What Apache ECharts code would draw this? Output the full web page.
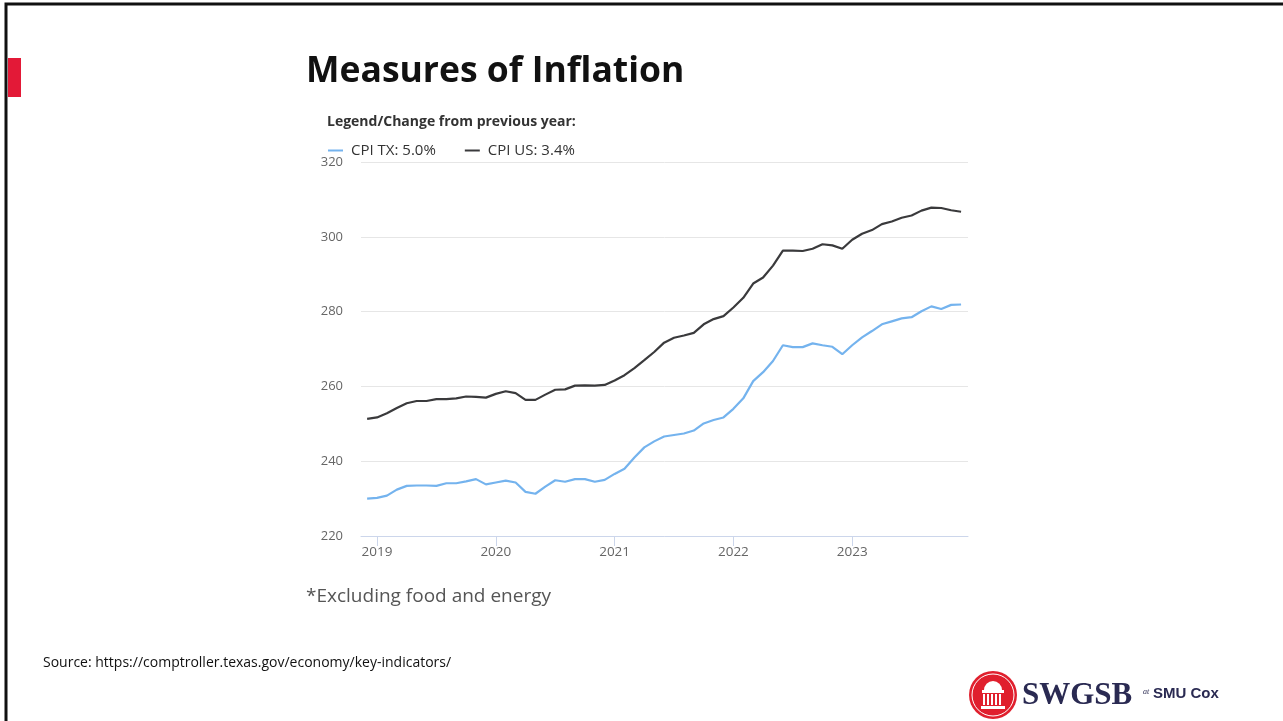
<!DOCTYPE html>
<html>
<head>
<meta charset="utf-8">
<style>
  html, body { margin: 0; padding: 0; background: #fff; }
  #chart { width: 1283px; height: 721px; }
</style>
<script src="https://cdn.jsdelivr.net/npm/echarts@6/dist/echarts.min.js"></script>
</head>
<body>
<div id="chart"></div>
<script>
// ---- data ----
const months = [
  '2018-12',
  '2019-01','2019-02','2019-03','2019-04','2019-05','2019-06','2019-07','2019-08','2019-09','2019-10','2019-11','2019-12',
  '2020-01','2020-02','2020-03','2020-04','2020-05','2020-06','2020-07','2020-08','2020-09','2020-10','2020-11','2020-12',
  '2021-01','2021-02','2021-03','2021-04','2021-05','2021-06','2021-07','2021-08','2021-09','2021-10','2021-11','2021-12',
  '2022-01','2022-02','2022-03','2022-04','2022-05','2022-06','2022-07','2022-08','2022-09','2022-10','2022-11','2022-12',
  '2023-01','2023-02','2023-03','2023-04','2023-05','2023-06','2023-07','2023-08','2023-09','2023-10','2023-11','2023-12'
];
const cpiTX = [
  230.0,
  230.2, 230.8, 232.4, 233.4, 233.5, 233.5, 233.4, 234.1, 234.1, 234.6, 235.2, 233.8,
  234.3, 234.8, 234.3, 231.8, 231.3, 233.2, 234.9, 234.5, 235.2, 235.2, 234.5, 235.0,
  236.6, 238.0, 241.0, 243.7, 245.3, 246.6, 247.0, 247.4, 248.2, 250.1, 251.0, 251.7,
  254.0, 256.8, 261.4, 263.8, 266.8, 271.0, 270.5, 270.5, 271.5, 271.0, 270.6, 268.6,
  271.0, 273.1, 274.8, 276.6, 277.4, 278.2, 278.5, 280.1, 281.4, 280.7, 281.8, 281.9
];
const cpiUS = [
  251.3,
  251.7, 252.8, 254.2, 255.5, 256.1, 256.1, 256.6, 256.6, 256.8, 257.3, 257.2, 257.0,
  258.0, 258.7, 258.2, 256.4, 256.4, 257.8, 259.1, 259.2, 260.2, 260.3, 260.2, 260.4,
  261.6, 263.0, 264.9, 267.0, 269.2, 271.7, 273.0, 273.6, 274.3, 276.6, 278.0, 278.8,
  281.1, 283.7, 287.5, 289.1, 292.3, 296.3, 296.3, 296.2, 296.8, 298.0, 297.7, 296.8,
  299.2, 300.8, 301.8, 303.4, 304.1, 305.1, 305.7, 307.0, 307.8, 307.7, 307.1, 306.7
];
const seriesNames = ['CPI TX: 5.0%', 'CPI US: 3.4%'];
const yTicks = [220, 240, 260, 280, 300, 320];
const xTickLabels = ['2019', '2020', '2021', '2022', '2023'];

// month string -> months since Jan 2019
function monthIndex(s) {
  const p = s.split('-');
  return (parseInt(p[0], 10) - 2019) * 12 + (parseInt(p[1], 10) - 1);
}
const xTickValues = xTickLabels.map(y => monthIndex(y + '-01'));
const txData = months.map((m, i) => [monthIndex(m), cpiTX[i]]);
const usData = months.map((m, i) => [monthIndex(m), cpiUS[i]]);

const chart = echarts.init(document.getElementById('chart'), null, { renderer: 'canvas' });

const option = {
  backgroundColor: '#ffffff',
  animation: false,
  title: [
    {
      text: 'Measures of Inflation',
      left: 301, top: 49,
      textStyle: { fontFamily: 'Open Sans', fontWeight: 'bold', fontSize: 35.5, color: '#111111' }
    },
    {
      text: 'Legend/Change from previous year:',
      left: 322, top: 110,
      textStyle: { fontFamily: 'Open Sans', fontWeight: 'bold', fontSize: 14, color: '#333333' }
    },
    {
      text: '*Excluding food and energy',
      left: 301, top: 582,
      textStyle: { fontFamily: 'Open Sans', fontWeight: 'normal', fontSize: 19, color: '#555555' }
    },
    {
      text: 'Source: https://comptroller.texas.gov/economy/key-indicators/',
      left: 38, top: 651,
      textStyle: { fontFamily: 'Open Sans', fontWeight: 'normal', fontSize: 14, color: '#111111' }
    }
  ],
  legend: {
    left: 323, top: 138,
    itemWidth: 15, itemHeight: 2, itemGap: 29,
    icon: 'rect',
    textStyle: { fontFamily: 'Open Sans', fontSize: 15, color: '#333333', padding: [0, 0, 0, 3] },
    data: seriesNames
  },
  grid: { left: 361, right: 315, top: 162, bottom: 185, containLabel: false },
  xAxis: {
    type: 'value',
    min: -1.62, max: 59.7,
    axisLine: { show: true, lineStyle: { color: '#ccd6eb', width: 1 } },
    axisTick: { show: true, customValues: xTickValues, length: 10, lineStyle: { color: '#ccd6eb' } },
    axisLabel: {
      customValues: xTickValues,
      formatter: v => xTickLabels[xTickValues.indexOf(Math.round(v))] || '',
      fontFamily: 'Open Sans', fontSize: 13.5, color: '#666666', margin: 9
    },
    splitLine: { show: false }
  },
  yAxis: {
    type: 'value',
    min: 220, max: 320, interval: 20,
    axisLine: { show: false },
    axisTick: { show: false },
    axisLabel: {
      formatter: v => (yTicks.indexOf(v) >= 0 ? String(v) : ''),
      fontFamily: 'Open Sans', fontSize: 13, color: '#666666', margin: 18
    },
    splitLine: { show: true, lineStyle: { color: '#e6e6e6', width: 1 } }
  },
  series: [
    {
      name: seriesNames[0], type: 'line', data: txData,
      showSymbol: false, symbol: 'none',
      lineStyle: { color: '#74b3ee', width: 2.2 }, itemStyle: { color: '#74b3ee' }
    },
    {
      name: seriesNames[1], type: 'line', data: usData,
      showSymbol: false, symbol: 'none',
      lineStyle: { color: '#3a3a3c', width: 2.2 }, itemStyle: { color: '#3a3a3c' }
    }
  ],
  graphic: [
    // slide frame
    { type: 'rect', shape: { x: 6, y: 4, width: 1290, height: 730 }, style: { fill: 'none', stroke: '#111', lineWidth: 3 }, silent: true },
    // red accent bar
    { type: 'rect', shape: { x: 8, y: 58, width: 13, height: 39 }, style: { fill: '#e31937' }, silent: true },
    // logo
    {
      type: 'group', left: 969, top: 671,
      children: [
        { type: 'circle', shape: { cx: 24, cy: 24, r: 24 }, style: { fill: '#e01f2d' } },
        { type: 'circle', shape: { cx: 24, cy: 24, r: 21 }, style: { fill: 'none', stroke: '#ffffff', lineWidth: 1 } },
        { type: 'sector', shape: { cx: 24, cy: 19, r0: 0, r: 9, startAngle: Math.PI, endAngle: 2 * Math.PI }, style: { fill: '#ffffff' } },
        { type: 'rect', shape: { x: 13, y: 19, width: 22, height: 3 }, style: { fill: '#ffffff' } },
        { type: 'rect', shape: { x: 14, y: 23, width: 2, height: 11 }, style: { fill: '#ffffff' } },
        { type: 'rect', shape: { x: 18, y: 23, width: 2, height: 11 }, style: { fill: '#ffffff' } },
        { type: 'rect', shape: { x: 22, y: 23, width: 2, height: 11 }, style: { fill: '#ffffff' } },
        { type: 'rect', shape: { x: 26, y: 23, width: 2, height: 11 }, style: { fill: '#ffffff' } },
        { type: 'rect', shape: { x: 30, y: 23, width: 2, height: 11 }, style: { fill: '#ffffff' } },
        { type: 'rect', shape: { x: 12, y: 35, width: 24, height: 3 }, style: { fill: '#ffffff' } },
        { type: 'text', x: 53, y: 9, style: { text: 'SWGSB', fill: '#2a2a52', font: 'bold 31px "Liberation Serif", "DejaVu Serif", serif' } },
        { type: 'text', x: 174, y: 17, style: { text: 'at', fill: '#2a2a52', font: 'italic 8px "Liberation Serif", serif' } },
        { type: 'text', x: 184, y: 15, style: { text: 'SMU Cox', fill: '#2a2a52', font: '900 15px "Liberation Sans", Arial, sans-serif' } }
      ]
    }
  ]
};
chart.setOption(option);
</script>
</body>
</html>
